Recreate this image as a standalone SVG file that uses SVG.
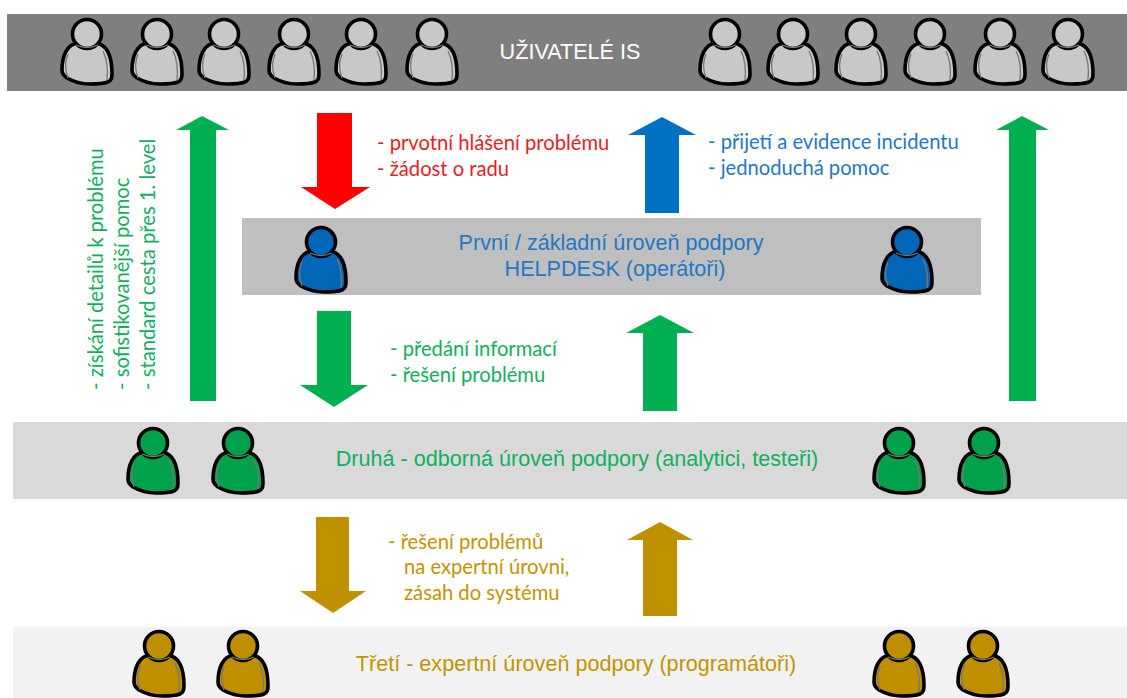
<svg xmlns="http://www.w3.org/2000/svg" width="1127" height="698" viewBox="0 0 1127 698">
<style>
text{font-family:"Lato","Open Sans",sans-serif;font-size:20.2px}
.t{font-family:"Liberation Sans",Arial,sans-serif;font-size:21.6px;text-anchor:middle}
.red{fill:#ee1c25}.blue{fill:#1f78c4}.green{fill:#10b060}.gold{fill:#c39400}
.line{stroke:#000;stroke-width:3.6;stroke-linejoin:round;fill:currentColor}
.in{fill:none;stroke:#777;stroke-width:1.3}
</style>
<defs>
<g id="p">
<path class="line" d="M-9 9C-20 10-25 22-25 36C-25 40-23 42-20 44C-13 48-5 50 3 50C10 50 16 50 21 48C24 47 25 44 25 40C25 25 22 11 9 9Z"/>
<circle class="line" cx="0" cy="0" r="14.5"/>
<path class="in" d="M-11 11Q0 16 11 11M-19 20C-22 27-22 36-19 44M16 17C20 25 21 36 20 46"/>
</g>
</defs>
<rect id="bar-users" x="7" y="14" width="1120" height="77" fill="#7f7f7f"/>
<rect id="bar-first" x="242" y="218" width="739" height="77" fill="#bfbfbf"/>
<rect id="bar-second" x="13" y="422" width="1114" height="77" fill="#d9d9d9"/>
<rect id="bar-third" x="13" y="627" width="1114" height="71" fill="#f2f2f2"/>
<g id="connectors">
<path id="c1" fill="#ff0000" d="M317 113H352V187H370L335 209L301 187H317Z"/>
<path id="c2" fill="#0070c0" d="M645 213V135H628L662 117L696 135H679V213Z"/>
<path id="c3" fill="#00b050" d="M317 311H351V385H368L334 407L300 385H317Z"/>
<path id="c4" fill="#00b050" d="M643 411V333H626L660 315L694 333H677V411Z"/>
<path id="c5" fill="#bf9000" d="M316 517H349V591H366L333 613L300 591H316Z"/>
<path id="c6" fill="#bf9000" d="M643 616V540H627L660 522L693 540H677V616Z"/>
<path id="c7" fill="#00b050" d="M190 401V130H176L202 116L229 130H216V401Z"/>
<path id="c8" fill="#00b050" d="M1009 401V130H996L1022 116L1049 130H1036V401Z"/>
</g>
<g id="users" color="#c8c8c8">
<use href="#p" x="87" y="34"/><use href="#p" x="157" y="34"/><use href="#p" x="224" y="34"/><use href="#p" x="294" y="34"/><use href="#p" x="361" y="34"/><use href="#p" x="432" y="34"/>
<use href="#p" x="725" y="34"/><use href="#p" x="793" y="34"/><use href="#p" x="861" y="34"/><use href="#p" x="930" y="34"/><use href="#p" x="1000" y="34"/><use href="#p" x="1068" y="34"/>
<text x="570" y="59" class="t" fill="#fff">UŽIVATELÉ IS</text>
</g>
<g id="first" color="#0067b8">
<use href="#p" x="321" y="242"/><use href="#p" x="907" y="242"/>
<text class="t blue" x="611" y="250">První / základní úroveň podpory</text>
<text class="t blue" x="615" y="276">HELPDESK (operátoři)</text>
</g>
<g id="second" color="#00a14b">
<use href="#p" x="153" y="443"/><use href="#p" x="238" y="443"/><use href="#p" x="899" y="443"/><use href="#p" x="984" y="443"/>
<text class="t green" x="577" y="466">Druhá - odborná úroveň podpory (analytici, testeři)</text>
</g>
<g id="third" color="#bf8f00">
<use href="#p" x="159" y="646"/><use href="#p" x="243" y="646"/><use href="#p" x="899" y="646"/><use href="#p" x="983" y="646"/>
<text class="t gold" x="576" y="671">Třetí - expertní úroveň podpory (programátoři)</text>
</g>
<g id="labels">
<text class="red" x="377" y="150">- prvotní hlášení problému</text>
<text class="red" x="377" y="176">- žádost o radu</text>
<text class="blue" x="708" y="149">- přijetí a evidence incidentu</text>
<text class="blue" x="708" y="175">- jednoduchá pomoc</text>
<text class="green" x="390" y="356">- předání informací</text>
<text class="green" x="390" y="382">- řešení problému</text>
<text class="gold" x="388" y="549">- řešení problémů</text>
<text class="gold" x="404" y="574">na expertní úrovni,</text>
<text class="gold" x="404" y="600">zásah do systému</text>
<text class="green" transform="translate(103 390) rotate(-90)">- získání detailů k problému</text>
<text class="green" transform="translate(129 390) rotate(-90)">- sofistikovanější pomoc</text>
<text class="green" transform="translate(155 390) rotate(-90)">- standard cesta přes 1. level</text>
</g>
</svg>
